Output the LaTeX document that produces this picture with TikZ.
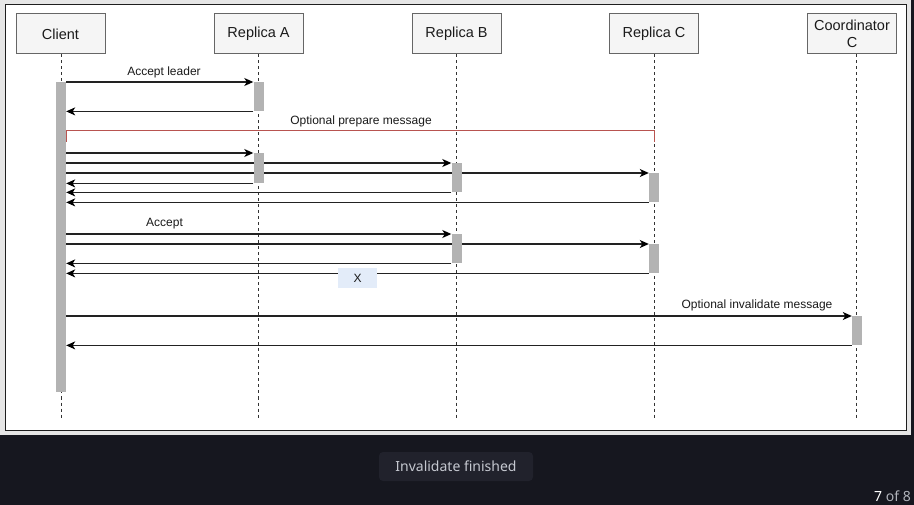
\documentclass[tikz,border=0pt]{standalone}
\usepackage{fontspec}
\setmainfont{Liberation Sans}
\newfontfamily\uifont{Noto Sans}
\usetikzlibrary{arrows.meta}
\pgfdeclarelayer{bg}
\pgfsetlayers{bg,main}
\definecolor{pagebg}{HTML}{16171F}
\definecolor{outerc}{HTML}{E6E6E6}
\definecolor{framec}{HTML}{1E1E1E}
\definecolor{actorfill}{HTML}{F5F5F5}
\definecolor{actorline}{HTML}{666666}
\definecolor{barfill}{HTML}{B3B3B3}
\definecolor{lifec}{HTML}{333333}
\definecolor{msgc}{HTML}{222222}
\definecolor{txt}{HTML}{1A1A1A}
\definecolor{optred}{HTML}{B85450}
\definecolor{xfill}{HTML}{E3ECF9}
\definecolor{btnbg}{HTML}{21222C}
\definecolor{btntext}{HTML}{C5C8D0}
\definecolor{pgc}{HTML}{B0B3BA}
\begin{document}
\begin{tikzpicture}[x=1pt,y=-1pt,
  actor/.style={draw=actorline, fill=actorfill, line width=1pt, minimum width=89pt,
    minimum height=40pt, inner sep=0pt, font=\fontsize{14.5}{17}\selectfont, text=txt, align=center},
  bar/.style={fill=barfill, draw=none, minimum width=10pt, inner sep=0pt, anchor=north},
  life/.style={draw=lifec, line width=1pt, dash pattern=on 3pt off 3pt},
  msg/.style={draw=msgc, line width=1.1pt, -{Stealth[length=9pt,width=8pt,inset=2.5pt,color=black]}},
  lbl/.style={font=\fontsize{12}{14}\selectfont, text=txt, inner sep=0pt},
  optframe/.style={draw=optred, line width=1pt},
]
\useasboundingbox (0,0) rectangle (914,505);
\begin{pgfonlayer}{bg}
\fill[pagebg] (0,0) rectangle (914,505);
\fill[outerc] (0,0) rectangle (911,435);
\draw[draw=framec, fill=white, line width=1pt] (5.5,4.5) rectangle (906.5,430.5);
\end{pgfonlayer}

% actors
\node[actor] (client) at (60.5,34) {Client};
\node[actor] (ra) at (258.5,34) {Replica A};
\node[actor] (rb) at (456.5,34) {Replica B};
\node[actor] (rc) at (654,34) {Replica C};
\node[actor] (coord) at (852,34) {Coordinator\\C};

% lifeline ends
\coordinate (clientE) at (61,420);
\coordinate (raE) at (258.5,420);
\coordinate (rbE) at (456.5,420);
\coordinate (rcE) at (654,420);
\coordinate (coordE) at (856.5,420);

% activation bars
\node[bar, minimum height=310pt] (cb) at (61,82) {};
\node[bar, minimum height=29pt] (ab1) at (258.5,82) {};
\node[bar, minimum height=30pt] (ab2) at (258.5,153) {};
\node[bar, minimum height=29pt] (bb1) at (456.5,163) {};
\node[bar, minimum height=29pt] (cc1) at (654,173) {};
\node[bar, minimum height=29pt] (bb2) at (456.5,234) {};
\node[bar, minimum height=29pt] (cc2) at (654,244) {};
\node[bar, minimum height=29pt] (co) at (857,316) {};

\begin{pgfonlayer}{bg}
% lifelines
\draw[life] (client.south -| clientE) -- (clientE);
\draw[life] (ra.south -| raE) -- (raE);
\draw[life] (rb.south -| rbE) -- (rbE);
\draw[life] (rc.south -| rcE) -- (rcE);
\draw[life] (coord.south -| coordE) -- (coordE);
% messages
\draw[msg] (cb.east |- ab1.north west) -- (ab1.north west);
\draw[msg] (ab1.south west) -- (cb.east |- ab1.south west);
\draw[msg] (cb.east |- ab2.north west) -- (ab2.north west);
\draw[msg] (cb.east |- bb1.north west) -- (bb1.north west);
\draw[msg] (cb.east |- cc1.north west) -- (cc1.north west);
\draw[msg] (ab2.south west) -- (cb.east |- ab2.south west);
\draw[msg] (bb1.south west) -- (cb.east |- bb1.south west);
\draw[msg] (cc1.south west) -- (cb.east |- cc1.south west);
\draw[msg] (cb.east |- bb2.north west) -- (bb2.north west);
\draw[msg] (cb.east |- cc2.north west) -- (cc2.north west);
\draw[msg] (bb2.south west) -- (cb.east |- bb2.south west);
\draw[msg] (cc2.south west) -- (cb.east |- cc2.south west);
\draw[msg] (cb.east |- co.north west) -- (co.north west);
\draw[msg] (co.south west) -- (cb.east |- co.south west);
\end{pgfonlayer}

% optional prepare frame
\coordinate (optL) at (66,142);
\coordinate (optR) at (654,142);
\draw[optframe] (optL) -- ++(0,-11) -| (optR);

% labels
\node[lbl] (l1) at (164,72) {Accept leader};
\node[lbl] (l2) at (361,121) {Optional prepare message};
\node[lbl] (l3) at (164.5,224) {Accept};
\node[lbl] (l4) at (757,305) {Optional invalidate message};
\node[lbl, fill=xfill, minimum width=39pt, minimum height=20pt] (lx) at (357.5,278) {X};

% bottom bar
\node[fill=btnbg, rounded corners=4pt, minimum width=154pt, minimum height=29pt,
  inner sep=0pt, font=\uifont\fontsize{14}{16}\selectfont, text=btntext] (btn) at (456,466.5) {Invalidate finished};
\node[anchor=base east, inner sep=0pt, font=\uifont\fontsize{14}{16}\selectfont] (pg) at (911,501)
  {\textcolor{white}{\bfseries 7} \textcolor{pgc}{of 8}};
\end{tikzpicture}
\end{document}
